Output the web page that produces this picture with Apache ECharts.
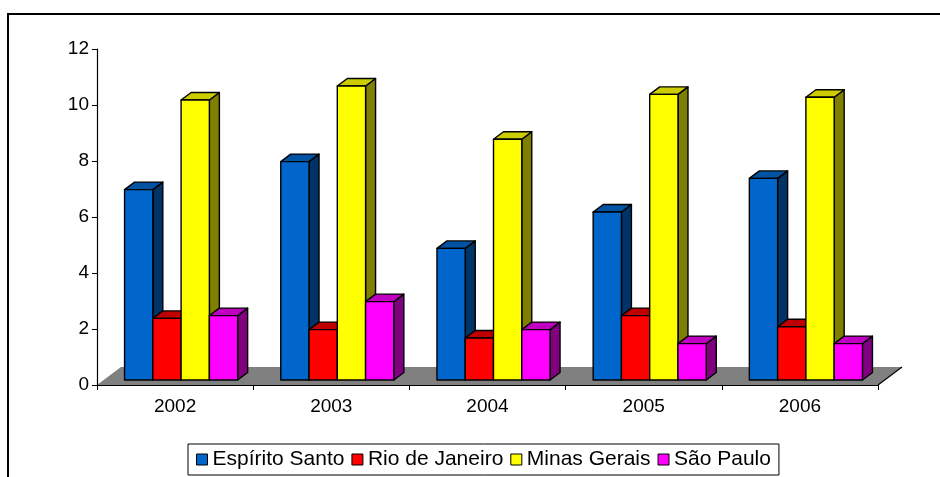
<!DOCTYPE html>
<html>
<head>
<meta charset="utf-8">
<script src="https://cdn.jsdelivr.net/npm/echarts@6/dist/echarts.min.js"></script>
<style>
  html, body { margin: 0; padding: 0; background: #fff; }
  #chart { width: 940px; height: 477px; }
</style>
</head>
<body>
<div id="chart"></div>
<script>
// Categories and series values
const years = ['2002', '2003', '2004', '2005', '2006'];
const espiritoSanto = [6.8, 7.8, 4.7, 6.0, 7.2];
const rioDeJaneiro = [2.2, 1.8, 1.5, 2.3, 1.9];
const minasGerais = [10.0, 10.5, 8.6, 10.2, 10.1];
const saoPaulo = [2.3, 2.8, 1.8, 1.3, 1.3];
const seriesNames = ['Espírito Santo', 'Rio de Janeiro', 'Minas Gerais', 'São Paulo'];
const seriesValues = [espiritoSanto, rioDeJaneiro, minasGerais, saoPaulo];

// Face colours for each column: front, top, side
const palette = [
  { front: '#0066CC', top: '#0052A3', side: '#003366' },
  { front: '#FF0000', top: '#C00000', side: '#800000' },
  { front: '#FFFF00', top: '#CCCC00', side: '#808000' },
  { front: '#FF00FF', top: '#C000C0', side: '#800080' }
];

// Pseudo-3D projection constants
const FLOOR_DX = 24, FLOOR_DY = 18;   // floor depth offset
const BAR_FX = 6, BAR_FY = 5;        // column front plane offset from floor front
const BAR_DX = 10, BAR_DY = 7.5;     // column depth offset
const BAR_FRAC = 0.181;              // column width as share of category width

const chart = echarts.init(document.getElementById('chart'), null, { renderer: 'canvas' });

function barRenderer(idx) {
  const col = palette[idx];
  return function (params, api) {
    const cat = api.value(0);
    const val = api.value(1);
    const base = api.coord([cat, 0]);
    const top = api.coord([cat, val]);
    const catW = api.size([1, 0])[0];
    const w = catW * BAR_FRAC;
    const x0 = base[0] - 2 * w + BAR_FX + idx * w;
    const x1 = x0 + w;
    const yb = base[1] - BAR_FY;
    const yt = top[1] - BAR_FY;
    const stroke = { stroke: '#000', lineWidth: 1.4, lineJoin: 'round' };
    return {
      type: 'group',
      children: [
        {
          type: 'polygon',
          shape: { points: [[x1, yt], [x1 + BAR_DX, yt - BAR_DY], [x1 + BAR_DX, yb - BAR_DY], [x1, yb]] },
          style: Object.assign({ fill: col.side }, stroke)
        },
        {
          type: 'polygon',
          shape: { points: [[x0, yt], [x1, yt], [x1 + BAR_DX, yt - BAR_DY], [x0 + BAR_DX, yt - BAR_DY]] },
          style: Object.assign({ fill: col.top }, stroke)
        },
        {
          type: 'rect',
          shape: { x: x0, y: yt, width: w, height: yb - yt },
          style: Object.assign({ fill: col.front }, stroke)
        }
      ]
    };
  };
}

// Grey floor under the columns, plus its right-hand edge
function floorRenderer(params, api) {
  const cs = params.coordSys;
  const xl = cs.x, xr = cs.x + cs.width, yf = cs.y + cs.height;
  return {
    type: 'group',
    children: [
      {
        type: 'polygon',
        shape: { points: [[xl, yf], [xl + FLOOR_DX, yf - FLOOR_DY], [xr + FLOOR_DX, yf - FLOOR_DY], [xr, yf]] },
        style: { fill: '#808080', stroke: null }
      },
      {
        type: 'line',
        shape: { x1: xr, y1: yf, x2: xr + FLOOR_DX, y2: yf - FLOOR_DY },
        style: { stroke: '#000', lineWidth: 1.2 }
      }
    ]
  };
}

const series = [{
  type: 'custom',
  name: 'floor',
  renderItem: floorRenderer,
  data: [[0, 0]],
  z: 1,
  silent: true
}];
seriesValues.forEach(function (vals, i) {
  series.push({
    type: 'custom',
    name: seriesNames[i],
    renderItem: barRenderer(i),
    itemStyle: { color: palette[i].front },
    encode: { x: 0, y: 1 },
    data: vals.map(function (v, j) { return [j, v]; }),
    z: 2
  });
});

const font = 'Liberation Sans, Arial, sans-serif';

chart.setOption({
  animation: false,
  backgroundColor: '#fff',
  grid: { left: 97, right: 62, top: 49, bottom: 92 },
  xAxis: {
    type: 'category',
    data: years,
    z: 5,
    axisLine: { lineStyle: { color: '#000', width: 1.2 } },
    axisTick: { show: true, length: 5, alignWithLabel: false, lineStyle: { color: '#000' } },
    axisLabel: { color: '#000', fontSize: 19, fontFamily: font, margin: 12 },
    splitLine: { show: false }
  },
  yAxis: {
    type: 'value',
    min: 0,
    max: 12,
    interval: 2,
    z: 5,
    axisLine: { show: true, lineStyle: { color: '#000', width: 1.2 } },
    axisTick: { show: true, length: 5, lineStyle: { color: '#000' } },
    axisLabel: { color: '#000', fontSize: 19, fontFamily: font, margin: 8 },
    splitLine: { show: false }
  },
  legend: {
    data: seriesNames,
    left: 188,
    top: 444,
    orient: 'horizontal',
    icon: 'rect',
    itemWidth: 11,
    itemHeight: 11,
    itemGap: 7,
    padding: [5, 8],
    borderColor: '#000',
    borderWidth: 1,
    itemStyle: { borderColor: '#000', borderWidth: 1 },
    textStyle: { color: '#000', fontSize: 21, fontFamily: font, padding: [0, 0, 0, 0] }
  },
  graphic: [{
    type: 'rect',
    shape: { x: 8, y: 14, width: 1000, height: 600 },
    style: { fill: null, stroke: '#000', lineWidth: 2 },
    silent: true,
    z: 10
  }],
  series: series
});
</script>
</body>
</html>
